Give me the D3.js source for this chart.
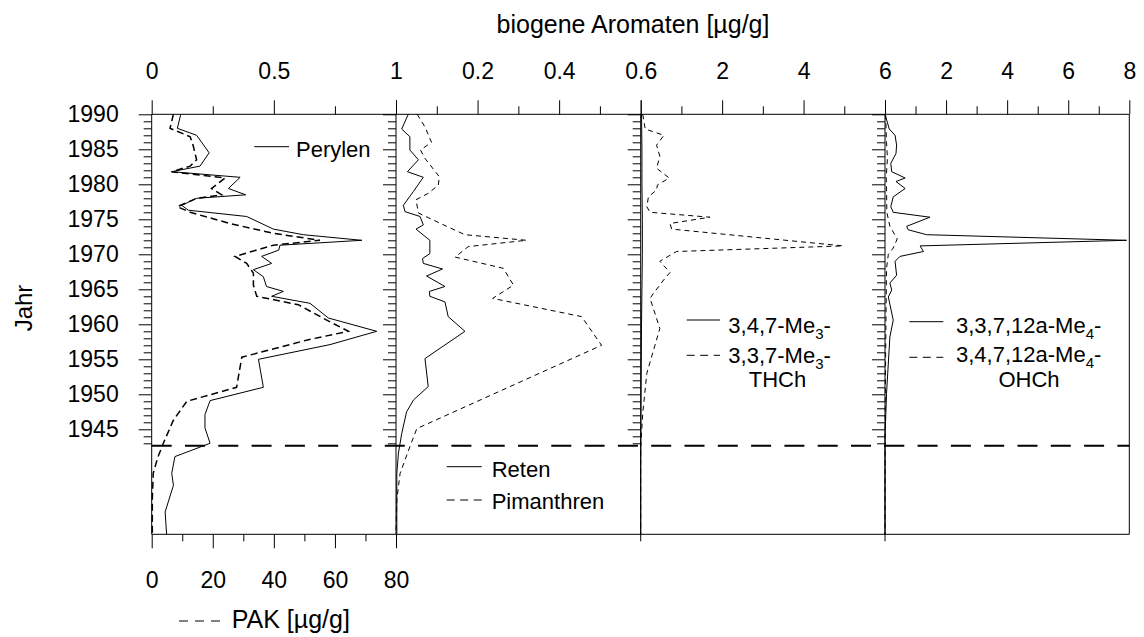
<!DOCTYPE html>
<html><head><meta charset="utf-8">
<script src="https://cdn.jsdelivr.net/npm/d3@7"></script>
<style>
body{margin:0;background:#fff}
svg{display:block}
text{font-family:"Liberation Sans",Arial,Helvetica,sans-serif;fill:#000}
</style>
</head><body>
<svg id="c" width="1144" height="637"></svg>
<script>
// ---------- data: [year, value] ----------
const perylen = [[1990,0.119],[1988,0.105],[1987,0.184],[1984.5,0.235],[1982.6,0.198],[1981.8,0.082],[1981,0.362],[1979.4,0.314],[1978.5,0.385],[1978,0.184],[1977,0.123],[1976.3,0.15],[1975.4,0.389],[1973.6,0.498],[1972.8,0.62],[1972,0.86],[1971.3,0.525],[1970.6,0.52],[1969.7,0.45],[1968.7,0.491],[1967.8,0.416],[1966.8,0.457],[1965.4,0.47],[1964.7,0.539],[1964,0.491],[1963,0.648],[1960.9,0.723],[1959,0.921],[1957.1,0.73],[1955,0.437],[1951,0.457],[1949.1,0.239],[1947.1,0.218],[1945.2,0.218],[1943,0.239],[1941.1,0.095],[1938.7,0.082],[1937,0.089],[1933.2,0.055],[1930,0.061]];
const pak = [[1990,7.1],[1988,6.0],[1986.8,12.6],[1985.5,13.6],[1983.5,14.7],[1982.6,12.6],[1981.8,6.5],[1980.9,24.0],[1979.4,19.6],[1978.5,22.9],[1978,14.7],[1976.8,8.4],[1976,12.6],[1974.4,25.6],[1973,39.8],[1972,55.1],[1971.3,39.8],[1969.7,27.3],[1968.7,31.1],[1967.3,33.3],[1965.6,33.3],[1964,34.4],[1962.8,48.0],[1960.6,57.3],[1959,64.4],[1957.8,51.3],[1955.3,29.5],[1951,27.8],[1949,11.5],[1946.3,7.1],[1943,3.8],[1941,2.0],[1938.7,0.5],[1935,0.2],[1930,0.2]];
const reten = [[1990,0.030],[1987.9,0.014],[1986.8,0.034],[1984.9,0.034],[1983.5,0.055],[1981.8,0.028],[1981,0.067],[1979,0.043],[1977,0.018],[1976.1,0.022],[1975.4,0.059],[1974.2,0.067],[1973.6,0.049],[1972,0.083],[1970.1,0.083],[1969.4,0.065],[1968.7,0.067],[1967.9,0.114],[1966.9,0.075],[1965.4,0.120],[1964.7,0.082],[1964,0.083],[1963.2,0.120],[1961.1,0.128],[1959,0.169],[1955.1,0.071],[1951.1,0.079],[1949.2,0.043],[1947.5,0.026],[1944.4,0.014],[1941.6,0.006],[1938.7,0.002],[1930,0.002]];
const pimanthren = [[1990,0.052],[1988.2,0.071],[1986,0.087],[1984.9,0.060],[1983.7,0.071],[1981.1,0.106],[1979.9,0.104],[1978.7,0.079],[1977.8,0.049],[1975.9,0.055],[1974,0.124],[1972.8,0.169],[1972,0.320],[1971.1,0.177],[1969.6,0.145],[1968,0.263],[1965.6,0.288],[1963.7,0.237],[1961.1,0.455],[1957,0.504],[1945.1,0.051],[1942.5,0.034],[1938.7,0.010],[1934.9,0.002],[1930,0]];
const thch347 = [[1990,0.02],[1985,0.03],[1980,0.03],[1975,0.04],[1970,0.04],[1965,0.03],[1960,0.02],[1950,0.01],[1940,0],[1930,0]];
const thch337 = [[1990,0.05],[1987.9,0.11],[1987,0.57],[1985.6,0.39],[1984,0.47],[1982.3,0.39],[1980.9,0.70],[1979.9,0.41],[1979.2,0.39],[1978.2,0.19],[1976.8,0.15],[1976,0.23],[1975.3,1.70],[1974.4,0.72],[1973.6,0.76],[1971.2,4.97],[1970.4,0.88],[1969,0.47],[1967.4,0.72],[1966.6,0.6],[1964.4,0.31],[1963.7,0.23],[1959.4,0.47],[1957,0.35],[1953,0.15],[1947.3,0.05],[1942.5,0],[1930,0]];
const ohch3371 = [[1990,0.0],[1987.9,0.14],[1987,0.33],[1985.6,0.38],[1984.4,0.36],[1983,0.19],[1981.8,0.22],[1980.9,0.66],[1980.4,0.36],[1979.4,0.66],[1978.2,0.27],[1976.8,0.19],[1976,0.27],[1975.3,1.47],[1974,0.71],[1973.5,0.76],[1972.8,1.36],[1972,7.91],[1971.2,1.15],[1970.4,1.26],[1969.7,0.49],[1969,0.33],[1967,0.38],[1965.9,0.16],[1964.9,0.22],[1963.9,0.11],[1960.6,0.27],[1958.2,0.16],[1950.1,0.05],[1943.9,0],[1930,0]];
const ohch3471 = [[1990,0.02],[1986,0.05],[1983.7,0.08],[1981,0.04],[1979.7,0.05],[1976,0.06],[1974,0.16],[1972.2,0.40],[1970.9,0.27],[1970,0.11],[1968,0.05],[1960,0.03],[1950,0.01],[1930,0]];

// ---------- axes / ticks ----------
const yearMajors = [1945,1950,1955,1960,1965,1970,1975,1980,1985,1990];
const yearMinors = d3.range(1943,1990).filter(v => v % 5 !== 0);
const separatorYear = 1942.65;
const panelDomains = [[0,1],[0,0.6],[0,6],[0,8]];
const topMajors = [[0,0.5,1],[0,0.2,0.4,0.6],[0,2,4,6],[0,2,4,6,8]];
const topMinors = [[0.25,0.75],[0.1,0.3,0.5],[1,3,5],[1,3,5,7]];
const topTickLabels = [["0","0.5","1"],["","0.2","0.4","0.6"],["","2","4","6"],["","2","4","6","8"]];
const pakMajors = [0,20,40,60,80];
const pakMinors = [10,30,50,70];

// ---------- layout ----------
const svg = d3.select("#c");
const TOP = 114.3, BOT = 534.3;
const edges = [151.7, 396, 640.7, 885, 1129.3];
const FS = 23;
const y = d3.scaleLinear().domain([1930,1990]).range([BOT, TOP]);
const xs = panelDomains.map((d,i) => d3.scaleLinear().domain(d).range([edges[i], edges[i+1]]));
const xPAK = d3.scaleLinear().domain([0,80]).range([edges[0], edges[1]]);

function styleAxis(g){
  g.select(".domain").remove();
  g.attr("font-family", null).attr("font-size", null);
  g.selectAll("text").style("font-size", FS+"px").attr("fill","#000");
  g.selectAll("line").attr("stroke","#000");
}

// top axes
xs.forEach((sc,i) => {
  const labs = topTickLabels[i];
  const maj = topMajors[i];
  svg.append("g").attr("transform",`translate(0,${TOP})`)
    .call(d3.axisTop(sc).tickValues(maj).tickSize(14).tickPadding(21)
      .tickFormat((d,k) => labs[k]))
    .call(styleAxis);
  svg.append("g").attr("transform",`translate(0,${TOP})`)
    .call(d3.axisTop(sc).tickValues(topMinors[i]).tickSize(8).tickFormat(""))
    .call(styleAxis);
});

// left axes for each panel
edges.slice(0,4).forEach((ex,i) => {
  svg.append("g").attr("transform",`translate(${ex},0)`)
    .call(d3.axisLeft(y).tickValues(yearMajors).tickSize(13).tickPadding(20)
      .tickFormat(i===0 ? d3.format("d") : ""))
    .call(styleAxis);
  svg.append("g").attr("transform",`translate(${ex},0)`)
    .call(d3.axisLeft(y).tickValues(yearMinors).tickSize(8).tickFormat(""))
    .call(styleAxis);
});

// bottom PAK axis
svg.append("g").attr("transform",`translate(0,${BOT})`)
  .call(d3.axisBottom(xPAK).tickValues(pakMajors).tickSize(14).tickPadding(23.4).tickFormat(d3.format("d")))
  .call(styleAxis);
svg.append("g").attr("transform",`translate(0,${BOT})`)
  .call(d3.axisBottom(xPAK).tickValues(pakMinors).tickSize(7).tickFormat(""))
  .call(styleAxis);

// frame
const frame = svg.append("g").attr("stroke","#000").attr("stroke-width",1).attr("fill","none");
frame.append("line").attr("x1",edges[0]).attr("x2",edges[4]).attr("y1",TOP).attr("y2",TOP);
frame.append("line").attr("x1",edges[0]).attr("x2",edges[4]).attr("y1",BOT).attr("y2",BOT);
edges.forEach((ex,i) => {
  frame.append("line").attr("x1",ex).attr("x2",ex).attr("y1",TOP)
    .attr("y2", (i===2||i===3) ? BOT+7 : BOT);
});

// separator
svg.append("line").attr("x1",edges[0]).attr("x2",edges[4])
  .attr("y1",y(separatorYear)).attr("y2",y(separatorYear))
  .attr("stroke","#000").attr("stroke-width",2).attr("stroke-dasharray","20,13.3");

// series
function drawSeries(data, sc, dash, w){
  const line = d3.line().x(d => sc(d[1])).y(d => y(d[0]));
  svg.append("path").datum(data).attr("d",line)
    .attr("fill","none").attr("stroke","#000").attr("stroke-width",w||1)
    .attr("stroke-dasharray",dash||null).attr("stroke-linejoin","miter");
}
drawSeries(perylen, xs[0], null, 1);
drawSeries(pak, xPAK, "7,4", 1.5);
drawSeries(reten, xs[1], null, 1);
drawSeries(pimanthren, xs[1], "5,4", 1);
drawSeries(thch347, xs[2], null, 1);
drawSeries(thch337, xs[2], "5,4", 1);
drawSeries(ohch3371, xs[3], null, 1);
drawSeries(ohch3471, xs[3], "5,4", 1);

// legends
const LF = 22;
function legLine(x1,x2,yy,dash){
  svg.append("line").attr("x1",x1).attr("x2",x2).attr("y1",yy).attr("y2",yy)
    .attr("stroke","#000").attr("stroke-width",1).attr("stroke-dasharray",dash||null);
}
function legText(x,yy,str,anchor,size){
  return svg.append("text").attr("x",x).attr("y",yy).attr("text-anchor",anchor||"start")
    .style("font-size",(size||LF)+"px").text(str);
}
function legSub(x,yy,a,sub,b){
  const t = svg.append("text").attr("x",x).attr("y",yy).style("font-size",LF+"px");
  t.append("tspan").text(a);
  t.append("tspan").attr("dy",6).style("font-size","15px").text(sub);
  t.append("tspan").attr("dy",-6).text(b);
}
legLine(254.3,289,146.7); legText(296,156.5,"Perylen");
legLine(446.7,481.7,466.7); legText(491.7,476.5,"Reten");
legLine(446.7,481.7,500,"8,5.5"); legText(491.7,509,"Pimanthren");
legLine(686.7,720,320); legSub(728.3,333.3,"3,4,7-Me","3","-");
legLine(686.7,720,355.3,"8,5.5"); legSub(728.3,363.3,"3,3,7-Me","3","-");
legText(777.5,386.5,"THCh","middle");
legLine(909.3,943.3,321.7); legSub(956,333.3,"3,3,7,12a-Me","4","-");
legLine(909.3,943.3,357.3,"8,5.5"); legSub(956,361.7,"3,4,7,12a-Me","4","-");
legText(1029,386.7,"OHCh","middle");

// axis titles
legText(633,32.5,"biogene Aromaten [µg/g]","middle",25);
legLine(179,220,621,"9,7");
legText(231.7,628.3,"PAK [µg/g]","start",25);
svg.append("text").attr("transform","translate(31.7,308) rotate(-90)")
  .attr("text-anchor","middle").style("font-size","24px").text("Jahr");
</script>
</body></html>
